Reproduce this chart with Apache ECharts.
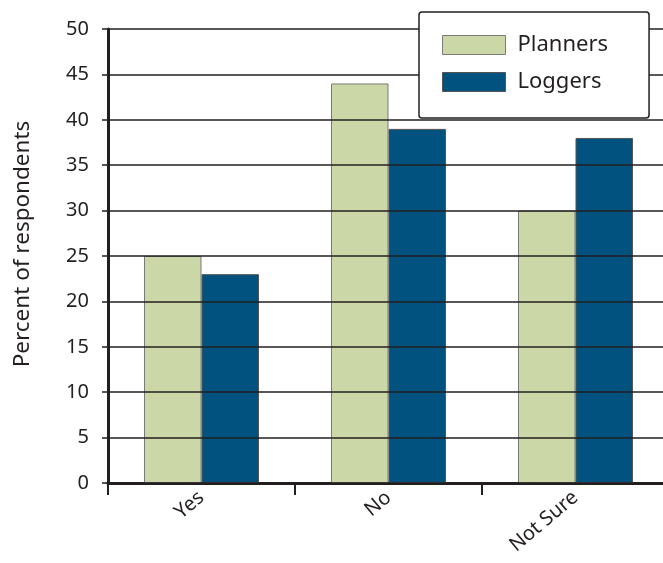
<!DOCTYPE html>
<html><head><meta charset="utf-8">
<script src="https://cdn.jsdelivr.net/npm/echarts@6/dist/echarts.min.js"></script>
<style>html,body{margin:0;padding:0;background:#fff}#c{width:663px;height:563px}</style>
</head><body><div id="c"></div>
<script>
const categories = ['Yes', 'No', 'Not Sure'];
const planners = [25, 44, 30];
const loggers = [23, 39, 38];
const yTicks = [0, 50, 5];

const txt = '#231f20';
const font = 'Noto Sans';
const chart = echarts.init(document.getElementById('c'));
chart.setOption({
  animation: false,
  textStyle: { fontFamily: font },
  grid: { left: 108, top: 29, width: 561, height: 454, containLabel: false, outerBoundsMode: 'none' },
  legend: {
    orient: 'vertical', left: 419, top: 12,
    padding: [22, 41, 25, 23],
    backgroundColor: '#fff', borderColor: '#231f20', borderWidth: 1.5, borderRadius: 3,
    icon: 'rect',
    itemWidth: 63, itemHeight: 19, itemGap: 15,
    textStyle: { fontSize: 22, color: txt, fontFamily: font, padding: [0, 0, 0, 7] },
    itemStyle: { borderWidth: 1 },
    z: 10,
    data: ['Planners', 'Loggers']
  },
  xAxis: {
    type: 'category', data: categories,
    axisLine: { lineStyle: { color: txt, width: 3 } },
    axisTick: { show: true, length: 12, lineStyle: { color: txt, width: 2 } },
    axisLabel: { rotate: 40, fontSize: 20, color: txt, margin: 12 }
  },
  yAxis: {
    type: 'value', min: yTicks[0], max: yTicks[1], interval: yTicks[2], z: 5,
    name: 'Percent of respondents', nameLocation: 'middle', nameGap: 74,
    nameTextStyle: { fontSize: 22.5, color: txt, padding: [0, 0, 0, 24] },
    axisLine: { show: true, lineStyle: { color: txt, width: 3 } },
    axisTick: { show: true, length: 6, lineStyle: { color: txt, width: 1.5 } },
    axisLabel: { fontSize: 20, color: txt, margin: 19 },
    splitLine: { lineStyle: { color: txt, width: 1.5 } }
  },
  series: [
    { name: 'Planners', type: 'bar', data: planners, barGap: '0%', barCategoryGap: '38.5%',
      itemStyle: { color: '#cbd7a6', borderColor: '#7a7a7a', borderWidth: 1 } },
    { name: 'Loggers', type: 'bar', data: loggers,
      itemStyle: { color: '#01527f', borderColor: '#555', borderWidth: 1 } }
  ]
});
</script></body></html>
